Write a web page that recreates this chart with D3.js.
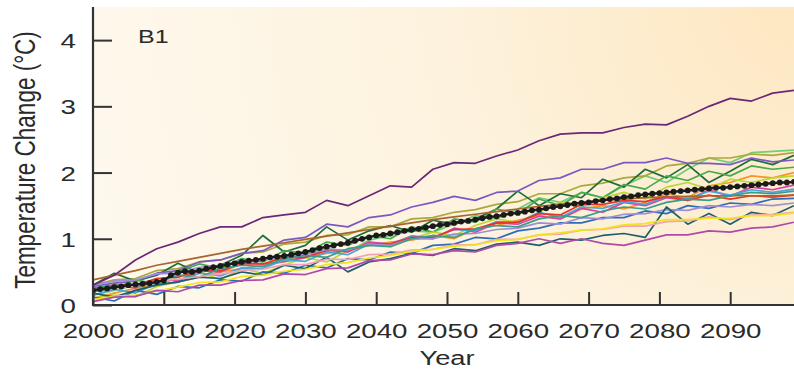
<!DOCTYPE html>
<html>
<head>
<meta charset="utf-8">
<script src="https://cdn.jsdelivr.net/npm/d3@7"></script>
<style>
  html, body { margin: 0; padding: 0; background: #ffffff; }
  svg { display: block; }
  text { font-family: "Liberation Sans", Arial, Helvetica, sans-serif; fill: #2a2a2a; }
</style>
</head>
<body>
<svg id="chart" width="794" height="369"></svg>
<script>
// Scenario label and axis titles
const scenarioLabel = "B1";
const xTitle = "Year";
const yTitle = "Temperature Change (°C)";

// Tick labels
const xTicks = [2000, 2010, 2020, 2030, 2040, 2050, 2060, 2070, 2080, 2090];
const yTicks = [0, 1, 2, 3, 4];

// Individual model runs, sampled every 3 years from 2000 to 2099 (°C)
const runYears = d3.range(2000, 2100, 3);

const runMint      = [0.15,0.22,0.30,0.28,0.42,0.55,0.50,0.62,0.70,0.66,0.78,0.85,0.80,0.98,1.05,1.12,1.10,1.22,1.35,1.30,1.45,1.62,1.55,1.70,1.62,1.80,1.95,1.85,2.05,2.22,2.15,2.30,2.32,2.34];
const runOlive     = [0.30,0.38,0.40,0.52,0.55,0.65,0.68,0.78,0.80,0.92,0.95,1.05,1.06,1.18,1.18,1.30,1.32,1.40,1.44,1.52,1.56,1.68,1.68,1.80,1.84,1.92,1.95,2.10,2.14,2.22,2.22,2.28,2.26,2.30];
const runDarkGreen = [0.30,0.48,0.36,0.45,0.63,0.48,0.60,0.75,1.05,0.80,0.90,1.18,0.98,1.12,1.20,1.10,1.28,1.22,1.30,1.45,1.72,1.50,1.68,1.62,1.90,1.78,2.05,1.92,2.12,1.85,2.02,2.20,2.12,2.26];
const runViolet    = [0.28,0.33,0.36,0.48,0.52,0.65,0.68,0.78,0.82,0.98,1.02,1.22,1.18,1.32,1.36,1.48,1.55,1.64,1.58,1.70,1.72,1.88,1.92,2.05,2.05,2.15,2.15,2.22,2.14,2.14,2.12,2.22,2.16,2.19];
const runGreen     = [0.20,0.25,0.38,0.32,0.50,0.62,0.55,0.70,0.65,0.82,0.78,0.95,0.90,1.05,1.00,1.18,1.10,1.30,1.25,1.45,1.38,1.60,1.50,1.70,1.62,1.82,1.75,1.95,1.88,2.02,1.95,2.10,2.05,2.08];
const runOrange    = [0.10,0.18,0.25,0.30,0.35,0.42,0.50,0.55,0.60,0.65,0.72,0.78,0.82,0.90,0.95,0.98,1.05,1.00,1.15,1.20,1.28,1.35,1.30,1.45,1.50,1.45,1.55,1.68,1.62,1.80,1.85,1.95,1.92,2.00];
const runLime      = [0.10,0.15,0.12,0.28,0.35,0.50,0.38,0.55,0.48,0.60,0.72,0.65,0.82,0.95,0.88,1.00,1.10,1.05,1.20,1.30,1.25,1.40,1.55,1.48,1.62,1.70,1.60,1.78,1.85,1.75,1.90,1.85,1.92,1.95];
const runMagenta   = [0.20,0.30,0.26,0.40,0.36,0.52,0.50,0.64,0.62,0.66,0.72,0.84,0.80,0.95,0.92,1.04,1.00,1.16,1.10,1.24,1.22,1.34,1.30,1.46,1.40,1.55,1.50,1.62,1.58,1.74,1.64,1.78,1.74,1.81];
const runSkyBlue   = [0.15,0.24,0.18,0.32,0.34,0.48,0.44,0.56,0.55,0.68,0.66,0.80,0.76,0.92,0.90,1.04,1.02,1.14,1.12,1.26,1.24,1.40,1.32,1.48,1.46,1.56,1.52,1.64,1.60,1.72,1.66,1.74,1.70,1.75];
const runRed       = [0.25,0.30,0.30,0.40,0.42,0.52,0.52,0.62,0.62,0.72,0.72,0.82,0.82,0.92,0.92,1.02,1.02,1.14,1.15,1.24,1.25,1.38,1.36,1.52,1.52,1.58,1.56,1.64,1.58,1.66,1.60,1.65,1.63,1.66];
const runBrown     = [0.38,0.45,0.52,0.60,0.66,0.72,0.78,0.84,0.89,0.94,0.99,1.04,1.09,1.14,1.19,1.24,1.29,1.33,1.37,1.41,1.45,1.49,1.52,1.55,1.58,1.60,1.62,1.63,1.64,1.65,1.65,1.65,1.65,1.66];
const runBlue      = [0.12,0.06,0.22,0.16,0.28,0.26,0.38,0.36,0.50,0.48,0.60,0.56,0.70,0.68,0.80,0.78,0.90,0.92,1.02,1.00,1.12,1.16,1.24,1.24,1.32,1.32,1.42,1.38,1.50,1.46,1.54,1.52,1.60,1.61];
const runLavender  = [0.30,0.36,0.38,0.47,0.48,0.57,0.60,0.67,0.68,0.74,0.76,0.84,0.83,0.92,0.90,1.00,1.00,1.07,1.08,1.14,1.16,1.24,1.22,1.32,1.30,1.37,1.38,1.44,1.43,1.50,1.48,1.52,1.50,1.54];
const runTeal      = [0.18,0.12,0.22,0.30,0.35,0.42,0.40,0.50,0.45,0.60,0.55,0.72,0.50,0.65,0.70,0.78,0.75,0.85,0.82,0.92,0.95,0.90,1.00,0.98,1.05,1.08,1.02,1.48,1.22,1.38,1.22,1.40,1.35,1.50];
const runSeafoam   = [0.25,0.30,0.28,0.35,0.45,0.42,0.55,0.60,0.58,0.70,0.75,0.72,0.85,0.90,0.88,1.00,1.05,1.02,1.15,1.20,1.18,1.30,1.35,1.32,1.42,1.48,1.45,1.55,1.60,1.58,1.65,1.70,1.68,1.72];
const runPink      = [0.22,0.26,0.29,0.36,0.39,0.43,0.47,0.52,0.54,0.61,0.61,0.69,0.69,0.76,0.77,0.83,0.84,0.91,0.91,0.99,0.99,1.06,1.07,1.13,1.14,1.19,1.19,1.26,1.27,1.33,1.29,1.36,1.37,1.40];
const runYellow    = [0.08,0.13,0.15,0.21,0.27,0.34,0.35,0.43,0.45,0.51,0.54,0.61,0.64,0.71,0.75,0.81,0.84,0.89,0.91,0.97,0.99,1.06,1.09,1.13,1.15,1.21,1.23,1.29,1.29,1.31,1.31,1.35,1.35,1.39];
const runMauve     = [0.05,0.12,0.13,0.22,0.20,0.30,0.30,0.37,0.38,0.47,0.46,0.55,0.56,0.67,0.68,0.77,0.76,0.82,0.80,0.90,0.93,1.00,0.93,1.00,0.93,0.90,0.98,1.06,1.06,1.12,1.10,1.16,1.18,1.25];
const runPlum      = [0.30,0.45,0.68,0.85,0.95,1.08,1.18,1.18,1.32,1.36,1.40,1.58,1.50,1.65,1.80,1.78,2.05,2.15,2.14,2.25,2.34,2.48,2.58,2.60,2.60,2.68,2.73,2.72,2.85,3.00,3.12,3.08,3.20,3.24];

const runSeries = [runMint, runOlive, runDarkGreen, runViolet, runGreen, runOrange, runLime,
                   runMagenta, runSkyBlue, runRed, runBrown, runBlue, runLavender, runTeal,
                   runSeafoam, runPink, runYellow, runMauve, runPlum];
const runColors = ["#72cd78", "#aaa83c", "#1f6c3b", "#7b59c2", "#46aa4c", "#f4962b", "#bcd632",
                   "#dd3f9f", "#4ba4dc", "#e8332b", "#a6652c", "#2f6db5", "#9d8fd7", "#1e5f6b",
                   "#3a9e8c", "#f2a2b6", "#f1e31c", "#b04aa9", "#6b2876"];

// Multi-model mean, one value per year 2000–2099 (°C)
const meanYears = d3.range(2000, 2100, 1);
const meanValues = [
  0.22,0.24,0.25,0.27,0.28,0.30,0.31,0.32,0.33,0.35,
  0.37,0.45,0.49,0.51,0.50,0.52,0.55,0.57,0.59,0.61,
  0.63,0.65,0.67,0.68,0.70,0.72,0.73,0.74,0.76,0.78,
  0.80,0.83,0.86,0.88,0.90,0.92,0.94,0.97,1.00,1.02,
  1.05,1.06,1.08,1.10,1.12,1.14,1.15,1.17,1.19,1.21,
  1.22,1.24,1.26,1.27,1.29,1.31,1.33,1.34,1.36,1.38,
  1.39,1.41,1.43,1.44,1.46,1.48,1.49,1.51,1.53,1.54,
  1.55,1.57,1.58,1.60,1.61,1.63,1.64,1.66,1.67,1.68,
  1.69,1.70,1.71,1.72,1.73,1.74,1.75,1.76,1.77,1.77,
  1.78,1.79,1.80,1.81,1.82,1.83,1.84,1.85,1.85,1.86
];

const svg = d3.select("#chart");
const plot = { left: 93, right: 794, top: 7, bottom: 305 };

const x = d3.scaleLinear().domain([2000, 2100]).range([plot.left, 801]);
const y = d3.scaleLinear().domain([0, 4.5]).range([plot.bottom, plot.top]);

// Warm background, deepening toward the upper right
const defs = svg.append("defs");
const grad = defs.append("radialGradient")
  .attr("id", "bg").attr("gradientUnits", "userSpaceOnUse")
  .attr("cx", 800).attr("cy", 0).attr("r", 780);
grad.append("stop").attr("offset", 0).attr("stop-color", "#fde7c0");
grad.append("stop").attr("offset", 0.45).attr("stop-color", "#fdf2dd");
grad.append("stop").attr("offset", 1).attr("stop-color", "#fef9ef");

defs.append("clipPath").attr("id", "plotClip")
  .append("rect")
  .attr("x", plot.left).attr("y", plot.top)
  .attr("width", plot.right - plot.left).attr("height", plot.bottom - plot.top);

svg.append("rect")
  .attr("x", plot.left).attr("y", plot.top)
  .attr("width", plot.right - plot.left).attr("height", plot.bottom - plot.top)
  .attr("fill", "url(#bg)");

const marks = svg.append("g").attr("clip-path", "url(#plotClip)");

const runLine = d3.line()
  .x((d, i) => x(runYears[i]))
  .y(d => y(d));

marks.selectAll("path.run")
  .data(runSeries)
  .join("path")
  .attr("class", "run")
  .attr("d", runLine)
  .attr("fill", "none")
  .attr("stroke", (d, i) => runColors[i])
  .attr("stroke-width", 1.7)
  .attr("stroke-linejoin", "round");

const meanLine = d3.line()
  .x((d, i) => x(meanYears[i]))
  .y(d => y(d));

marks.append("path")
  .datum(meanValues)
  .attr("d", meanLine)
  .attr("fill", "none")
  .attr("stroke", "#1a1a1a")
  .attr("stroke-width", 2.4);

marks.selectAll("circle.mean")
  .data(meanValues)
  .join("circle")
  .attr("class", "mean")
  .attr("cx", (d, i) => x(meanYears[i]))
  .attr("cy", d => y(d))
  .attr("r", 2.9)
  .attr("fill", "#1a1a1a");

// Axes, ticks pointing into the plot
const stretch = "scale(1.32,1)";

const xAxis = svg.append("g")
  .attr("transform", `translate(0,${plot.bottom})`)
  .call(d3.axisBottom(x).tickValues(xTicks).tickFormat(d3.format("d")).tickSize(-13).tickSizeOuter(0));
xAxis.select(".domain").remove();
xAxis.selectAll(".tick line").attr("stroke", "#333").attr("stroke-width", 2);
xAxis.selectAll(".tick text")
  .attr("y", 33).attr("dy", null)
  .attr("font-size", 21)
  .attr("fill", "#2a2a2a")
  .attr("transform", stretch);

const yAxis = svg.append("g")
  .attr("transform", `translate(${plot.left},0)`)
  .call(d3.axisLeft(y).tickValues(yTicks).tickFormat(d3.format("d")).tickSize(-19).tickSizeOuter(0));
yAxis.select(".domain").remove();
yAxis.selectAll(".tick line").attr("stroke", "#333").attr("stroke-width", 2);
yAxis.selectAll(".tick text")
  .attr("x", -17 / 1.32).attr("dy", "0.36em")
  .attr("font-size", 21)
  .attr("fill", "#2a2a2a")
  .attr("transform", stretch);

// Axis spines
svg.append("line")
  .attr("x1", plot.left).attr("x2", plot.left)
  .attr("y1", plot.top).attr("y2", plot.bottom + 1)
  .attr("stroke", "#333").attr("stroke-width", 2.2);
svg.append("line")
  .attr("x1", plot.left - 1).attr("x2", plot.right)
  .attr("y1", plot.bottom).attr("y2", plot.bottom)
  .attr("stroke", "#333").attr("stroke-width", 2.2);

// Titles
svg.append("text")
  .attr("transform", `translate(${x(2050)},365) scale(1.3,1)`)
  .attr("text-anchor", "middle")
  .attr("font-size", 21)
  .text(xTitle);

svg.append("text")
  .attr("transform", "translate(35,160) scale(1.3,1) rotate(-90)")
  .attr("text-anchor", "middle")
  .attr("font-size", 22.5)
  .text(yTitle);

svg.append("text")
  .attr("transform", "translate(138,43) scale(1.32,1)")
  .attr("font-size", 19)
  .text(scenarioLabel);
</script>
</body>
</html>
